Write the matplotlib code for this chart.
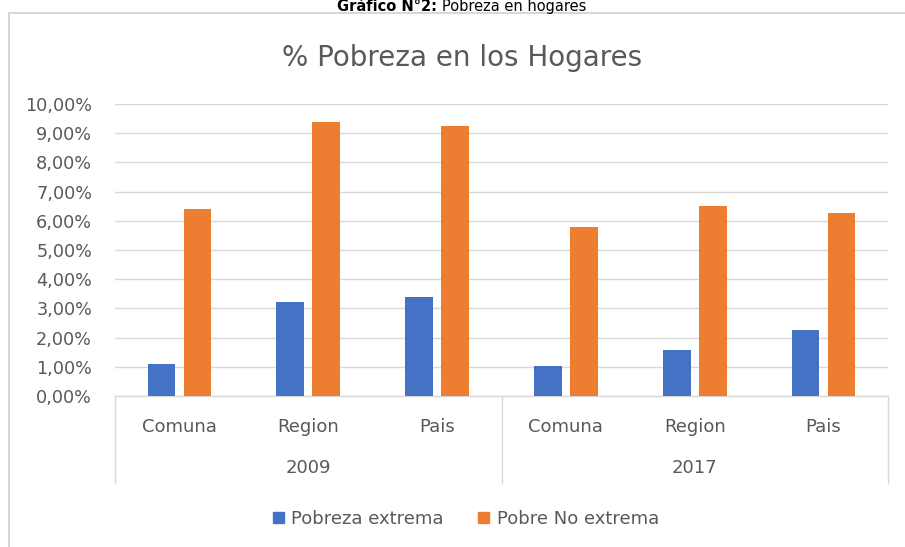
import matplotlib
matplotlib.use("Agg")
import matplotlib.pyplot as plt
import matplotlib.patches as mpatches
import matplotlib.transforms as mtransforms
from matplotlib.ticker import FuncFormatter, MultipleLocator

# ---- data ----
categories = ["Comuna", "Region", "Pais", "Comuna", "Region", "Pais"]
years = ["2009", "2017"]
pobreza_extrema = [1.10, 3.21, 3.40, 1.04, 1.58, 2.26]
pobre_no_extrema = [6.40, 9.39, 9.26, 5.80, 6.51, 6.28]
series_names = ["Pobreza extrema", "Pobre No extrema"]

BLUE = "#4472C4"
ORANGE = "#ED7D31"
GRAY_TXT = "#595959"
GRID = "#D9D9D9"

plt.rcParams["font.family"] = ["DejaVu Sans"]

W, H = 905, 547
fig = plt.figure(figsize=(W / 100, H / 100), dpi=100)

def fx(px):
    return px / W

def fy(py):
    return 1 - py / H

# chart frame
frame = mpatches.Rectangle((fx(9), fy(560)), fx(905) - fx(9) + 0.02, fy(13) - fy(560),
                           transform=fig.transFigure, facecolor="white",
                           edgecolor="#D0D0D0", linewidth=1.2, zorder=-5)
fig.patches.append(frame)

# axes
ax = fig.add_axes([fx(115), fy(396), fx(888) - fx(115), fy(104) - fy(396)])
ax.set_zorder(2)
ax.patch.set_alpha(0)
n = len(categories)
x = list(range(n))
bw = 0.215
off = 0.14
ax.bar([i - off for i in x], pobreza_extrema, width=bw, color=BLUE, zorder=3, label=series_names[0])
ax.bar([i + off for i in x], pobre_no_extrema, width=bw, color=ORANGE, zorder=3, label=series_names[1])

ax.set_xlim(-0.5, n - 0.5)
ax.set_ylim(0, 10)
ax.yaxis.set_major_locator(MultipleLocator(1))
ax.yaxis.set_major_formatter(FuncFormatter(lambda v, p: f"{v:.2f}%".replace(".", ",")))
ax.grid(axis="y", color=GRID, linewidth=1.0, zorder=0)
ax.set_axisbelow(True)
for s in ["top", "right", "left"]:
    ax.spines[s].set_visible(False)
ax.spines["bottom"].set_color(GRID)
ax.spines["bottom"].set_linewidth(1.0)
ax.tick_params(axis="y", length=0, pad=16.5, labelsize=12.7, labelcolor=GRAY_TXT)
ax.tick_params(axis="x", length=0, labelbottom=False)

# multi-level category labels
trans = mtransforms.blended_transform_factory(ax.transData, ax.transAxes)

def ay(py):
    return (396 - py) / (396 - 104)

for i, c in enumerate(categories):
    ax.text(i, ay(427), c, transform=trans, ha="center", va="center",
            fontsize=13, color=GRAY_TXT, clip_on=False)
for g, yr in enumerate(years):
    ax.text(g * 3 + 1, ay(468), yr, transform=trans, ha="center", va="center",
            fontsize=13, color=GRAY_TXT, clip_on=False)
for xb in [-0.5, 2.5, 5.5]:
    ax.plot([xb, xb], [0, ay(483)], transform=trans, color=GRID, linewidth=1.0,
            clip_on=False, zorder=1)

# chart title
fig.text(fx(462), fy(58), "% Pobreza en los Hogares", ha="center", va="center",
         fontsize=20, color=GRAY_TXT)

# legend
handles = [mpatches.Patch(color=BLUE), mpatches.Patch(color=ORANGE)]
fig.legend(handles, series_names, loc="center", bbox_to_anchor=(fx(466), fy(519)),
           ncol=2, frameon=False, fontsize=13, labelcolor=GRAY_TXT,
           handlelength=0.62, handleheight=0.62, handletextpad=0.4,
           columnspacing=1.9, borderaxespad=0)

# caption at top
fig.canvas.draw()
r = fig.canvas.get_renderer()
t1 = fig.text(0, fy(11), "Gráfico N°2: ", fontsize=10.5, fontweight="bold",
              ha="left", va="baseline", color="black")
t2 = fig.text(0, fy(11), "Pobreza en hogares", fontsize=10.5,
              ha="left", va="baseline", color="black")
w1 = t1.get_window_extent(r).width
w2 = t2.get_window_extent(r).width
start = 462 - (w1 + w2) / 2
t1.set_x(fx(start))
t2.set_x(fx(start + w1))

fig.savefig("out.png", dpi=100)
